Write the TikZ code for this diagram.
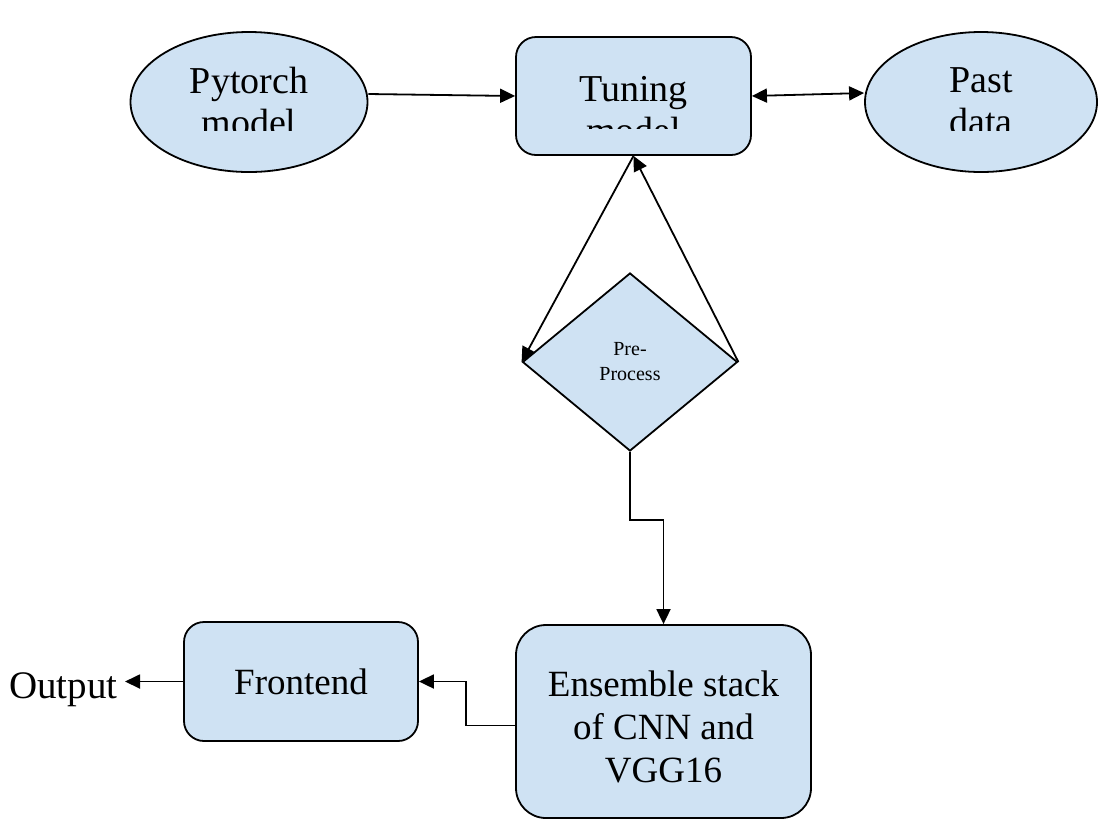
\documentclass[tikz,border=0pt]{standalone}
\usepackage{fontspec}
\setmainfont{Liberation Serif}
\usetikzlibrary{arrows.meta,shapes.geometric}
\definecolor{boxblue}{RGB}{207,226,243}

\begin{document}
\begin{tikzpicture}[x=0.5pt, y=-0.5pt, line width=0.9pt, >={Triangle[length=7.5pt,width=7pt]}]
	\tikzstyle{block}=[draw=black, fill=boxblue, rounded corners=10pt]
	\tikzstyle{blob}=[draw=black, fill=boxblue, ellipse]
	\tikzstyle{big}=[font=\fontsize{19}{21}\selectfont, align=center]
	\tikzstyle{mid}=[font=\fontsize{18.5}{21.5}\selectfont, align=center]

	\useasboundingbox (0,0) rectangle (1098,821);

	% top row
	\node[blob, minimum width=118.5pt, minimum height=70pt] (torch) at (249,102) {};
	\node[block, minimum width=117.5pt, minimum height=59pt] (tune) at (633.5,96) {};
	\node[blob, minimum width=116pt, minimum height=70pt] (past) at (981,102) {};

	% labels cut off at the bottom, as in the source
	\begin{scope}
		\clip (0,0) rectangle (1098,130);
		\node[big] (torchtxt) at (249,101) {Pytorch\\model};
		\node[big] (pasttxt) at (981,101) {Past\\data};
	\end{scope}
	\begin{scope}
		\clip (0,0) rectangle (1098,128);
		\node[big] (tunetxt) at (633.5,110) {Tuning\\model};
	\end{scope}

	\node[diamond, draw=black, fill=boxblue, minimum width=107.5pt, minimum height=89pt,
		font=\fontsize{10}{12.5}\selectfont, align=center] (pre) at (630,362) {Pre-\\Process};

	% bottom row
	\node[block, rounded corners=15pt, minimum width=147.5pt, minimum height=96.5pt] (ens) at (663.5,721.5) {};
	\node[mid] (enstxt) at (663.5,727) {Ensemble stack\\of CNN and\\VGG16};
	\node[block, minimum width=117pt, minimum height=59.5pt, mid] (front) at (301,681.5) {Frontend};
	\node[mid, font=\fontsize{19.5}{22}\selectfont, anchor=base east] (out) at (125,698) {Output};

	\draw[->] ([yshift=4pt]torch.east) -- (tune.west);
	\draw[<->] (tune.east) -- ([yshift=4.5pt]past.west);
	\draw[->] (tune.south) -- (pre.west);
	\draw[->] (pre.east) -- (tune.south);
	\draw[->] (pre.south) -- ++(0,68) -| (ens.north);
	\draw[->] ([yshift=-2pt]ens.west) -- ++(-49,0) |- (front.east);
	\draw[->] (front.west) -- (front.west -| out.east);

\end{tikzpicture}
\end{document}
